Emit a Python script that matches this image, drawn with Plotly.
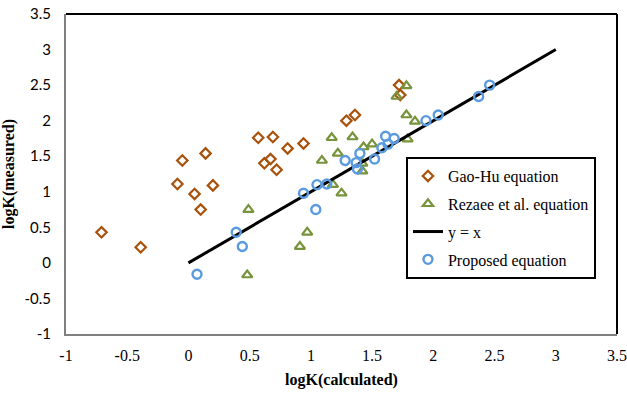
import plotly.graph_objects as go

gao_x = [-0.71, -0.39, -0.05, 0.14, -0.09, 0.05, 0.20, 0.10, 0.57, 0.69, 0.81, 0.94, 0.62, 0.67, 0.72, 1.29, 1.36, 1.72, 1.73]
gao_y = [0.43, 0.22, 1.44, 1.54, 1.11, 0.97, 1.09, 0.75, 1.76, 1.77, 1.61, 1.68, 1.40, 1.46, 1.31, 2.00, 2.08, 2.50, 2.36]

rez_x = [0.49, 0.48, 0.97, 0.91, 1.09, 1.17, 1.34, 1.22, 1.43, 1.50, 1.18, 1.25, 1.42, 1.42, 1.78, 1.70, 1.78, 1.85, 1.79]
rez_y = [0.75, -0.17, 0.43, 0.23, 1.44, 1.76, 1.77, 1.54, 1.63, 1.67, 1.10, 0.98, 1.40, 1.29, 2.49, 2.34, 2.08, 1.99, 1.74]

line_x = [0, 3]
line_y = [0, 3]

prop_x = [0.07, 0.39, 0.44, 0.94, 1.04, 1.05, 1.13, 1.28, 1.37, 1.38, 1.40, 1.52, 1.58, 1.63, 1.61, 1.68, 1.94, 2.04, 2.37, 2.46]
prop_y = [-0.16, 0.43, 0.23, 0.98, 0.75, 1.10, 1.11, 1.44, 1.41, 1.32, 1.54, 1.46, 1.62, 1.67, 1.78, 1.75, 2.00, 2.08, 2.34, 2.50]

x_ticks = [-1, -0.5, 0, 0.5, 1, 1.5, 2, 2.5, 3, 3.5]
y_ticks = [-1, -0.5, 0, 0.5, 1, 1.5, 2, 2.5, 3, 3.5]

fig = go.Figure()
fig.add_trace(go.Scatter(x=gao_x, y=gao_y, mode="markers", name="Gao-Hu equation", legendgroup="a",
                         marker=dict(symbol="diamond-open", size=8, color="#A8520C", line=dict(width=2.2))))
fig.add_trace(go.Scatter(x=rez_x, y=rez_y, mode="markers", name="Rezaee et al. equation", legendgroup="b",
                         marker=dict(symbol="triangle-up-open", size=9, color="#77933C", line=dict(width=2.2))))
fig.add_trace(go.Scatter(x=line_x, y=line_y, mode="lines", name="y = x", legendgroup="c",
                         line=dict(color="black", width=3)))
fig.add_trace(go.Scatter(x=prop_x, y=prop_y, mode="markers", name="Proposed equation", legendgroup="d",
                         marker=dict(symbol="circle-open", size=9, color="#5A9BE0", line=dict(width=2.4))))

font = "Liberation Serif"
fig.update_layout(
    width=627, height=393,
    margin=dict(l=66, r=10, t=14, b=59, autoexpand=False),
    paper_bgcolor="white", plot_bgcolor="white",
    font=dict(family=font, size=15, color="black"),
    showlegend=True,
    legend=dict(x=0.617, y=0.553, xanchor="left", yanchor="top",
                bgcolor="white", bordercolor="black", borderwidth=2,
                font=dict(family=font, size=16), tracegroupgap=4,
                itemwidth=30),
    shapes=[
        dict(type="line", xref="paper", yref="paper", x0=0, x1=1, y0=1, y1=1, line=dict(color="black", width=2)),
        dict(type="line", xref="paper", yref="paper", x0=1, x1=1, y0=0, y1=1, line=dict(color="black", width=2)),
    ],
)
fig.update_xaxes(range=[-1, 3.5], tickvals=x_ticks, ticktext=[str(v) for v in x_ticks], automargin=False,
                 showgrid=False, zeroline=False, showline=True, linecolor="#7F7F7F", linewidth=2,
                 ticks="", ticklen=0, ticklabelstandoff=6, tickfont=dict(family=font, size=16),
                 title=dict(text="<b>logK(calculated)</b>", font=dict(size=16), standoff=11))
fig.update_yaxes(range=[-1, 3.5], tickvals=y_ticks, ticktext=[str(v) for v in y_ticks], automargin=False,
                 showgrid=False, zeroline=False, showline=True, linecolor="#7F7F7F", linewidth=2,
                 ticks="", ticklen=0, ticklabelstandoff=10, tickfont=dict(family="Lato", size=15),
                 title=dict(text="<b>logK(measured)</b>", font=dict(size=16), standoff=8))

fig.write_html("out.html", config={"displayModeBar": False},
               post_script="document.body.style.margin='0';")
